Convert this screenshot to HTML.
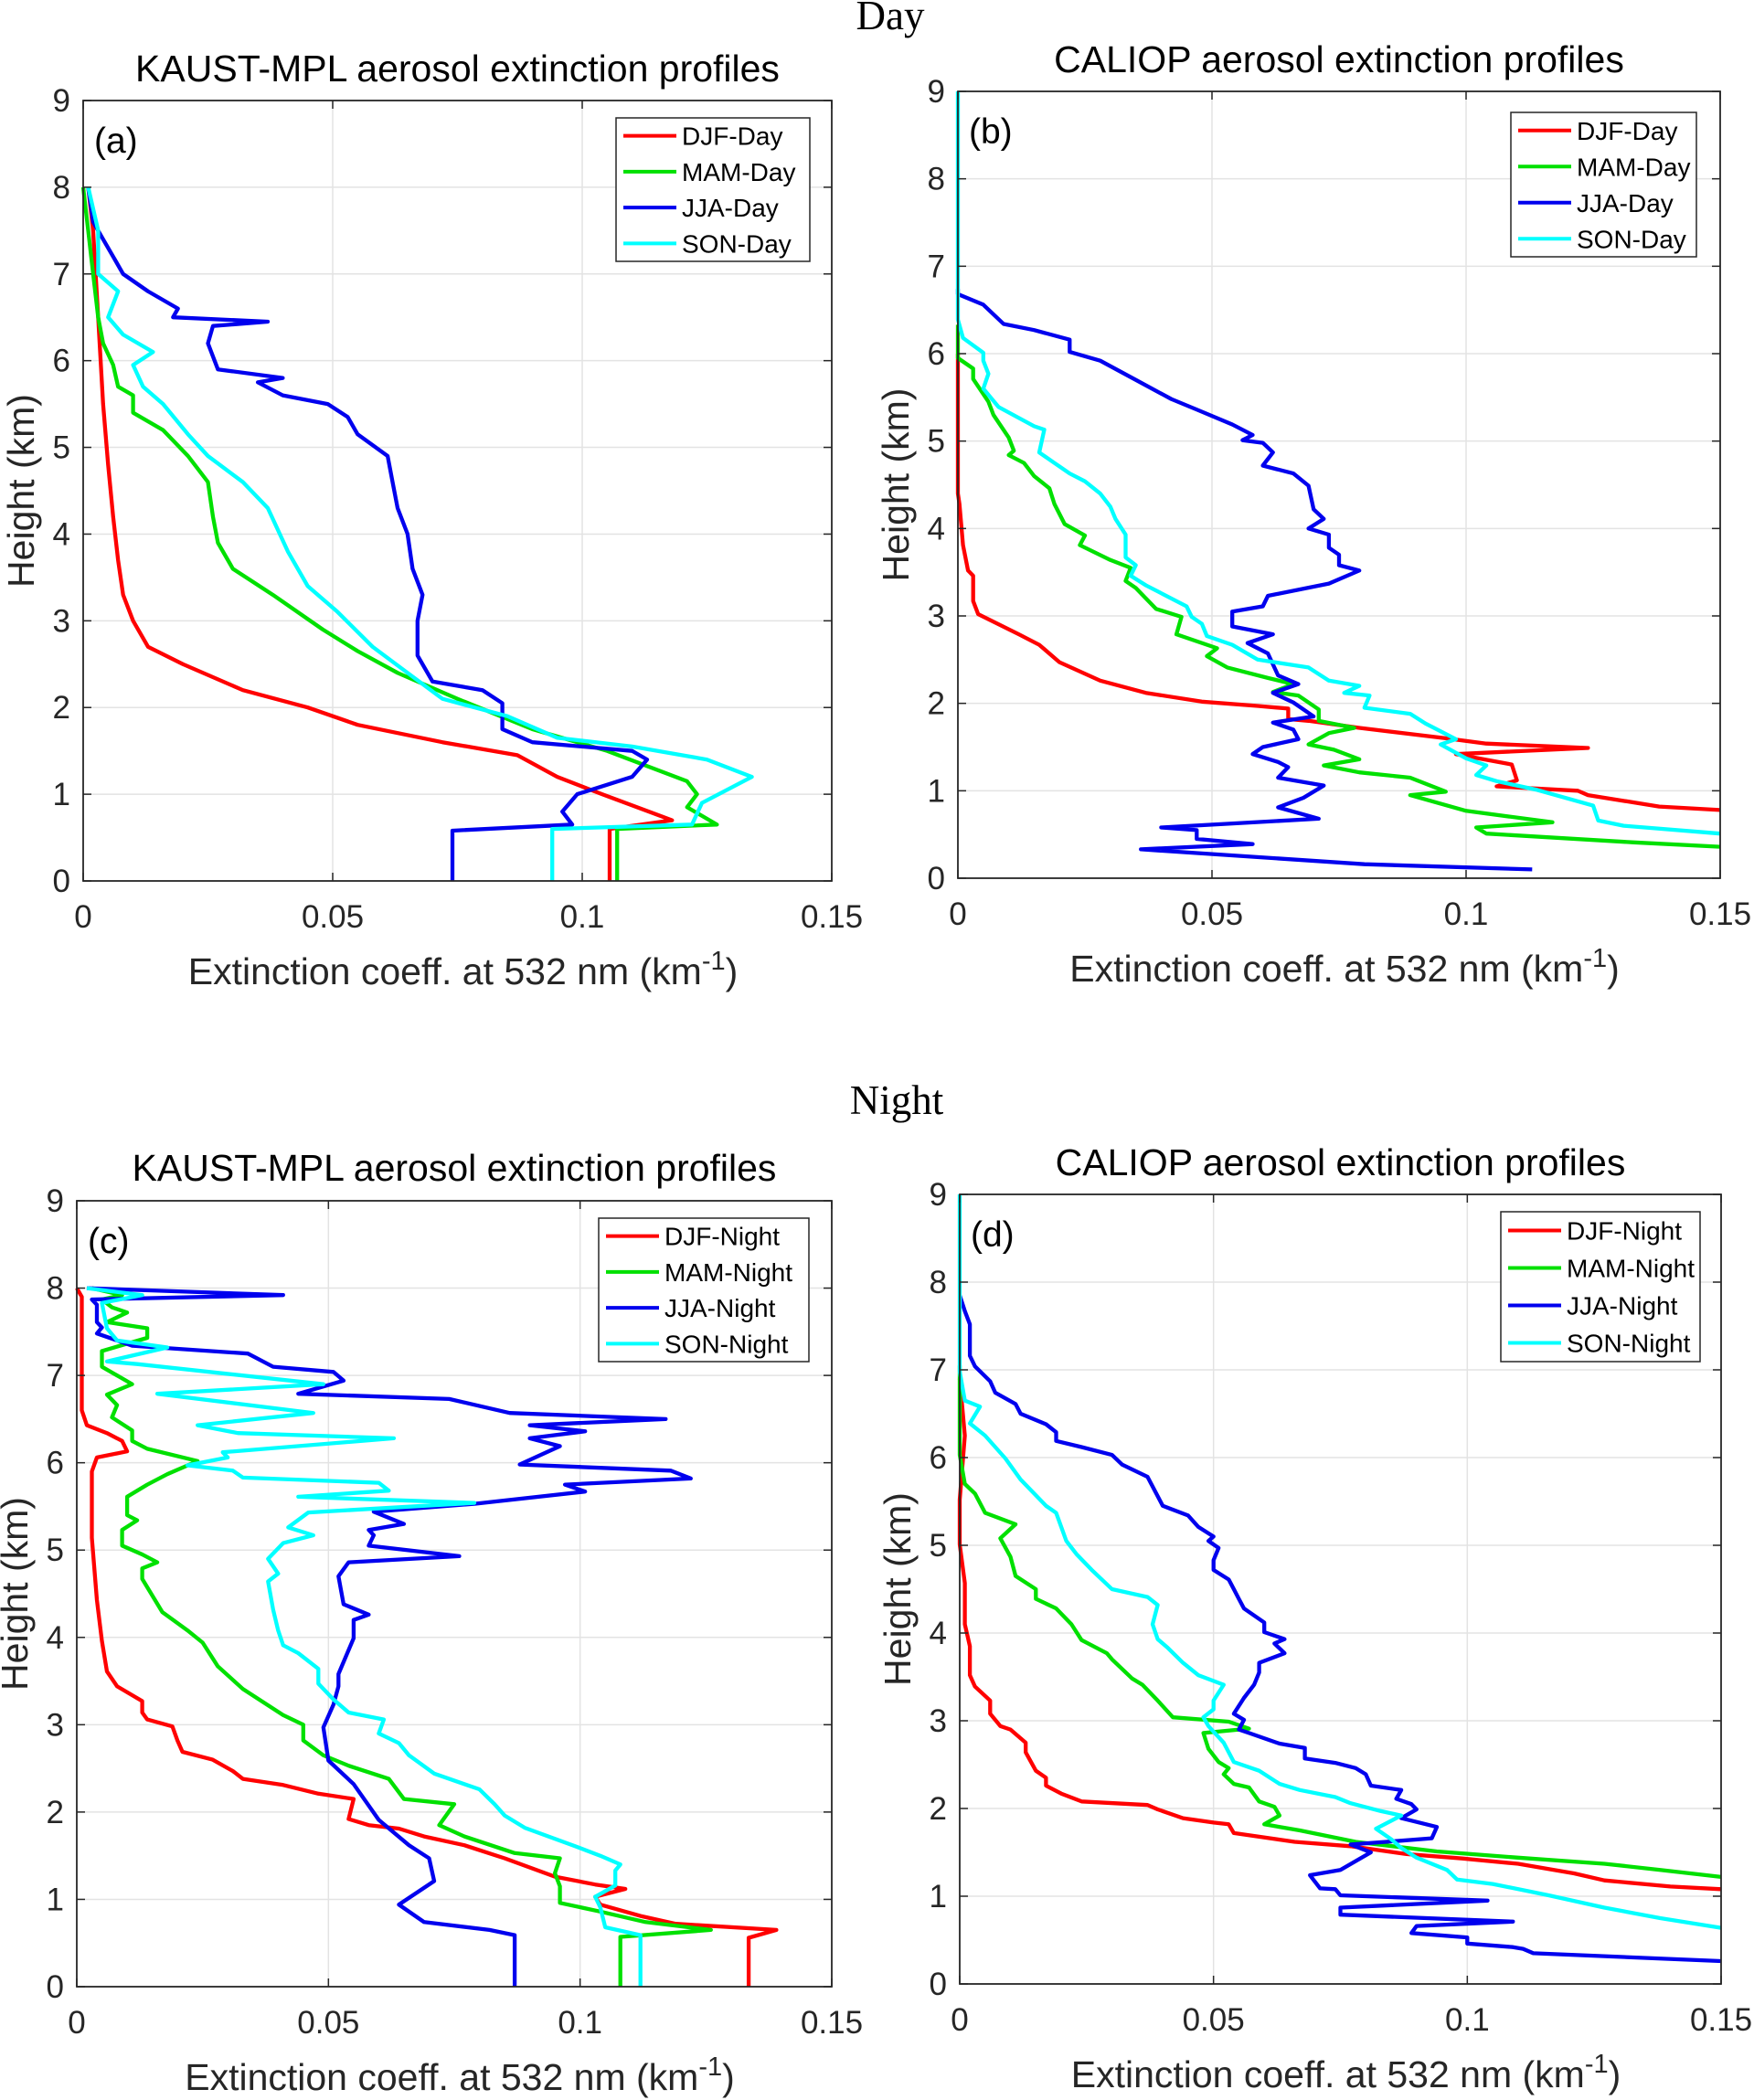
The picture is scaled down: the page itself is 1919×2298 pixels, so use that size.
<!DOCTYPE html>
<html><head><meta charset="utf-8">
<style>
html,body{margin:0;padding:0;background:#fff;}
svg{display:block;}
text{font-family:"Liberation Sans",Arial,sans-serif;}
</style></head>
<body>
<svg id="fig" width="1919" height="2298" viewBox="0 0 1919 2298" xmlns="http://www.w3.org/2000/svg">
<text x="974" y="32" text-anchor="middle" font-size="45" style="font-family:'Liberation Serif',serif" fill="#000">Day</text>
<text x="981" y="1219" text-anchor="middle" font-size="45" style="font-family:'Liberation Serif',serif" fill="#000">Night</text>
</svg>
<script>
// ---------- data: [extinction, height] pairs ----------
const xTicks=[0,0.05,0.1,0.15];
const xTickLabels=["0","0.05","0.1","0.15"];
const yTicks=[0,1,2,3,4,5,6,7,8,9];
const seasons=["DJF","MAM","JJA","SON"];

const aDJF=[[0.1055,0],[0.1055,0.6],[0.118,0.7],[0.104,1.0],[0.095,1.2],[0.087,1.45],[0.072,1.6],[0.055,1.8],[0.045,2.0],[0.032,2.2],[0.020,2.5],[0.013,2.7],[0.010,3.0],[0.008,3.3],[0.007,3.7],[0.006,4.2],[0.005,4.8],[0.004,5.5],[0.003,6.5],[0.002,7.5],[0.001,8]];
const aMAM=[[0.107,0],[0.107,0.6],[0.127,0.65],[0.121,0.85],[0.123,1.0],[0.121,1.15],[0.105,1.5],[0.09,1.75],[0.075,2.1],[0.063,2.4],[0.055,2.65],[0.048,2.9],[0.038,3.3],[0.030,3.6],[0.027,3.9],[0.026,4.2],[0.025,4.6],[0.021,4.9],[0.016,5.2],[0.010,5.4],[0.010,5.6],[0.007,5.7],[0.006,5.95],[0.004,6.2],[0.003,6.5],[0.002,7],[0.001,7.5],[0,8]];
const aJJA=[[0.074,0],[0.074,0.58],[0.098,0.65],[0.096,0.8],[0.099,1.0],[0.110,1.2],[0.113,1.4],[0.110,1.5],[0.090,1.6],[0.084,1.75],[0.084,2.05],[0.080,2.2],[0.070,2.3],[0.067,2.6],[0.067,3.0],[0.068,3.3],[0.066,3.6],[0.065,4.0],[0.063,4.3],[0.062,4.6],[0.061,4.9],[0.055,5.15],[0.053,5.35],[0.049,5.5],[0.040,5.6],[0.035,5.75],[0.040,5.8],[0.027,5.9],[0.025,6.2],[0.026,6.4],[0.037,6.45],[0.018,6.5],[0.019,6.6],[0.013,6.8],[0.008,7.0],[0.006,7.2],[0.004,7.4],[0.002,7.6],[0.001,8]];
const aSON=[[0.094,0],[0.094,0.6],[0.122,0.65],[0.124,0.9],[0.134,1.2],[0.125,1.4],[0.110,1.55],[0.095,1.65],[0.085,1.9],[0.072,2.1],[0.065,2.4],[0.058,2.7],[0.051,3.1],[0.045,3.4],[0.041,3.8],[0.037,4.3],[0.032,4.6],[0.025,4.9],[0.021,5.15],[0.016,5.5],[0.012,5.7],[0.010,5.95],[0.014,6.1],[0.008,6.3],[0.005,6.5],[0.007,6.8],[0.003,7.0],[0.003,7.5],[0.001,8]];

const bDJF=[[0.15,0.78],[0.138,0.82],[0.124,0.95],[0.122,1.0],[0.106,1.05],[0.110,1.12],[0.109,1.30],[0.098,1.42],[0.124,1.49],[0.104,1.54],[0.096,1.60],[0.079,1.72],[0.069,1.80],[0.065,1.82],[0.065,1.94],[0.059,1.97],[0.048,2.02],[0.037,2.12],[0.028,2.26],[0.020,2.47],[0.016,2.67],[0.012,2.79],[0.004,3.02],[0.003,3.17],[0.003,3.46],[0.002,3.52],[0.001,3.81],[0.0003,4.28],[0,4.4],[0,6.0]];
const bMAM=[[0.15,0.36],[0.133,0.41],[0.104,0.51],[0.102,0.58],[0.117,0.64],[0.100,0.77],[0.089,0.95],[0.096,0.99],[0.089,1.15],[0.079,1.21],[0.072,1.29],[0.079,1.36],[0.074,1.47],[0.069,1.53],[0.073,1.66],[0.078,1.72],[0.071,1.80],[0.071,1.93],[0.067,2.09],[0.062,2.13],[0.066,2.22],[0.061,2.29],[0.053,2.41],[0.049,2.54],[0.051,2.63],[0.043,2.79],[0.044,2.99],[0.039,3.08],[0.035,3.32],[0.033,3.40],[0.034,3.55],[0.030,3.64],[0.024,3.81],[0.025,3.92],[0.021,4.05],[0.019,4.28],[0.018,4.46],[0.015,4.60],[0.013,4.75],[0.010,4.84],[0.011,4.89],[0.010,5.04],[0.007,5.30],[0.006,5.45],[0.003,5.71],[0.003,5.83],[0,5.95],[0,6.33]];
const bJJA=[[0.113,0.10],[0.080,0.16],[0.036,0.33],[0.058,0.39],[0.047,0.45],[0.047,0.55],[0.040,0.58],[0.071,0.68],[0.063,0.81],[0.068,0.92],[0.072,1.06],[0.063,1.15],[0.065,1.27],[0.063,1.33],[0.058,1.42],[0.060,1.50],[0.067,1.59],[0.066,1.70],[0.062,1.78],[0.070,1.85],[0.066,2.01],[0.062,2.12],[0.067,2.22],[0.063,2.32],[0.061,2.57],[0.057,2.69],[0.062,2.79],[0.054,2.88],[0.054,3.05],[0.060,3.11],[0.061,3.23],[0.073,3.37],[0.079,3.52],[0.075,3.58],[0.075,3.70],[0.073,3.78],[0.073,3.93],[0.069,4.00],[0.072,4.11],[0.070,4.22],[0.069,4.49],[0.066,4.63],[0.060,4.72],[0.062,4.87],[0.060,4.98],[0.056,5.01],[0.058,5.07],[0.054,5.19],[0.047,5.36],[0.042,5.48],[0.035,5.70],[0.028,5.92],[0.022,6.02],[0.022,6.16],[0.015,6.27],[0.009,6.34],[0.005,6.56],[0,6.68],[0,6.74]];
const bSON=[[0.15,0.51],[0.131,0.60],[0.126,0.66],[0.125,0.83],[0.114,1.01],[0.106,1.11],[0.102,1.18],[0.104,1.29],[0.100,1.37],[0.095,1.53],[0.098,1.59],[0.092,1.77],[0.089,1.88],[0.080,1.95],[0.081,2.09],[0.076,2.12],[0.079,2.20],[0.073,2.26],[0.069,2.41],[0.059,2.50],[0.054,2.67],[0.049,2.77],[0.048,2.91],[0.046,2.99],[0.045,3.11],[0.040,3.26],[0.037,3.35],[0.034,3.46],[0.035,3.58],[0.033,3.67],[0.033,3.93],[0.031,4.11],[0.030,4.25],[0.028,4.40],[0.025,4.54],[0.022,4.63],[0.019,4.75],[0.016,4.87],[0.017,5.13],[0.015,5.17],[0.008,5.39],[0.005,5.60],[0.006,5.77],[0.005,5.92],[0.005,6.01],[0.001,6.18],[0,6.39],[0,9.0]];

const cDJF=[[0.1335,0],[0.1335,0.56],[0.139,0.65],[0.119,0.72],[0.112,0.81],[0.104,0.94],[0.103,1.03],[0.109,1.12],[0.103,1.17],[0.095,1.26],[0.085,1.47],[0.077,1.62],[0.069,1.72],[0.064,1.81],[0.058,1.85],[0.054,1.92],[0.055,2.15],[0.048,2.21],[0.041,2.31],[0.033,2.38],[0.031,2.47],[0.027,2.60],[0.021,2.69],[0.020,2.82],[0.019,2.98],[0.014,3.06],[0.013,3.14],[0.013,3.27],[0.008,3.44],[0.006,3.61],[0.005,3.96],[0.004,4.43],[0.003,5.14],[0.003,5.61],[0.003,5.90],[0.004,6.06],[0.010,6.13],[0.009,6.25],[0.006,6.34],[0.002,6.43],[0.001,6.60],[0.001,7.07],[0.001,7.60],[0.001,7.90],[0,8.0]];
const cMAM=[[0.108,0],[0.108,0.57],[0.126,0.65],[0.113,0.74],[0.104,0.86],[0.096,0.96],[0.096,1.15],[0.095,1.30],[0.096,1.47],[0.087,1.53],[0.077,1.72],[0.072,1.85],[0.075,2.09],[0.065,2.15],[0.062,2.38],[0.054,2.53],[0.049,2.65],[0.045,2.82],[0.045,3.00],[0.041,3.11],[0.033,3.41],[0.028,3.67],[0.025,3.94],[0.022,4.08],[0.017,4.29],[0.013,4.67],[0.013,4.79],[0.016,4.86],[0.013,4.95],[0.009,5.05],[0.009,5.23],[0.012,5.34],[0.010,5.40],[0.010,5.61],[0.014,5.75],[0.018,5.87],[0.024,6.02],[0.014,6.16],[0.011,6.25],[0.011,6.37],[0.007,6.52],[0.008,6.66],[0.006,6.78],[0.011,6.90],[0.005,7.10],[0.005,7.28],[0.014,7.43],[0.014,7.54],[0.006,7.61],[0.010,7.72],[0.007,7.78],[0.005,7.87],[0.009,7.92],[0.003,8.0]];
const cJJA=[[0.087,0],[0.087,0.59],[0.082,0.65],[0.069,0.74],[0.064,0.94],[0.071,1.21],[0.070,1.47],[0.066,1.62],[0.060,1.91],[0.055,2.32],[0.050,2.59],[0.049,2.97],[0.051,3.23],[0.052,3.44],[0.052,3.58],[0.055,3.99],[0.055,4.20],[0.058,4.26],[0.053,4.38],[0.052,4.70],[0.054,4.86],[0.076,4.93],[0.058,5.05],[0.059,5.17],[0.058,5.23],[0.065,5.30],[0.059,5.44],[0.079,5.53],[0.101,5.67],[0.097,5.75],[0.122,5.82],[0.118,5.91],[0.088,5.98],[0.096,6.19],[0.090,6.28],[0.101,6.36],[0.090,6.43],[0.117,6.50],[0.086,6.57],[0.074,6.73],[0.044,6.79],[0.053,6.94],[0.051,7.04],[0.039,7.10],[0.034,7.25],[0.011,7.34],[0.004,7.48],[0.005,7.55],[0.004,7.61],[0.004,7.81],[0.003,7.87],[0.041,7.92],[0.002,8.0]];
const cSON=[[0.112,0],[0.112,0.59],[0.105,0.68],[0.104,0.91],[0.103,1.03],[0.107,1.16],[0.107,1.33],[0.108,1.40],[0.104,1.50],[0.099,1.61],[0.089,1.82],[0.085,1.96],[0.083,2.09],[0.080,2.26],[0.077,2.32],[0.071,2.44],[0.066,2.65],[0.064,2.79],[0.060,2.90],[0.061,3.06],[0.054,3.14],[0.051,3.29],[0.048,3.47],[0.048,3.64],[0.044,3.82],[0.041,3.91],[0.040,4.08],[0.039,4.32],[0.038,4.64],[0.040,4.73],[0.038,4.90],[0.041,5.08],[0.047,5.17],[0.042,5.26],[0.046,5.43],[0.079,5.54],[0.044,5.61],[0.062,5.68],[0.060,5.77],[0.033,5.83],[0.031,5.91],[0.022,5.97],[0.030,6.06],[0.029,6.12],[0.063,6.28],[0.032,6.34],[0.024,6.43],[0.047,6.57],[0.016,6.79],[0.049,6.90],[0.012,7.13],[0.006,7.16],[0.018,7.32],[0.008,7.40],[0.006,7.54],[0.005,7.83],[0.013,7.92],[0.002,8.0]];

const dDJF=[[0.15,1.08],[0.140,1.11],[0.127,1.18],[0.121,1.26],[0.110,1.37],[0.099,1.43],[0.088,1.48],[0.077,1.57],[0.066,1.62],[0.054,1.72],[0.053,1.82],[0.050,1.84],[0.044,1.89],[0.039,1.99],[0.037,2.04],[0.024,2.08],[0.020,2.17],[0.017,2.26],[0.017,2.35],[0.015,2.43],[0.013,2.64],[0.013,2.75],[0.010,2.90],[0.008,2.94],[0.006,3.08],[0.006,3.23],[0.003,3.39],[0.002,3.52],[0.002,3.85],[0.001,4.10],[0.001,4.57],[0,5.01],[0,5.52],[0.001,6.25],[0,6.90]];
const dMAM=[[0.15,1.22],[0.138,1.30],[0.127,1.37],[0.110,1.44],[0.094,1.51],[0.078,1.62],[0.067,1.75],[0.060,1.82],[0.063,1.92],[0.062,2.02],[0.059,2.08],[0.057,2.24],[0.054,2.28],[0.052,2.39],[0.053,2.46],[0.051,2.53],[0.049,2.68],[0.048,2.86],[0.057,2.91],[0.053,2.99],[0.042,3.04],[0.039,3.23],[0.036,3.41],[0.034,3.48],[0.030,3.70],[0.029,3.77],[0.024,3.92],[0.022,4.10],[0.019,4.28],[0.015,4.39],[0.015,4.50],[0.011,4.65],[0.010,4.87],[0.008,5.08],[0.011,5.24],[0.005,5.37],[0.003,5.59],[0.001,5.70],[0,6.03],[0,6.69],[0,7.05]];
const dJJA=[[0.15,0.26],[0.113,0.35],[0.111,0.40],[0.109,0.42],[0.100,0.46],[0.100,0.53],[0.089,0.58],[0.090,0.66],[0.109,0.71],[0.075,0.79],[0.075,0.87],[0.104,0.95],[0.075,1.01],[0.074,1.08],[0.071,1.09],[0.069,1.24],[0.075,1.30],[0.081,1.50],[0.077,1.59],[0.084,1.62],[0.093,1.66],[0.094,1.79],[0.087,1.89],[0.090,1.99],[0.089,2.05],[0.086,2.11],[0.087,2.21],[0.081,2.26],[0.080,2.39],[0.078,2.46],[0.074,2.52],[0.068,2.57],[0.068,2.69],[0.063,2.74],[0.057,2.86],[0.055,2.90],[0.056,3.01],[0.054,3.08],[0.056,3.26],[0.058,3.41],[0.059,3.55],[0.059,3.66],[0.064,3.77],[0.062,3.88],[0.064,3.93],[0.060,4.01],[0.060,4.12],[0.056,4.28],[0.055,4.39],[0.054,4.50],[0.053,4.61],[0.050,4.72],[0.050,4.83],[0.051,4.97],[0.049,5.05],[0.050,5.10],[0.047,5.21],[0.045,5.34],[0.040,5.45],[0.039,5.56],[0.037,5.78],[0.032,5.92],[0.030,6.03],[0.024,6.12],[0.019,6.19],[0.019,6.29],[0.017,6.38],[0.012,6.50],[0.011,6.61],[0.007,6.74],[0.006,6.87],[0.003,7.04],[0.002,7.16],[0.002,7.52],[0.001,7.67],[0,7.85]];
const dSON=[[0.15,0.64],[0.138,0.75],[0.127,0.87],[0.116,1.01],[0.105,1.14],[0.098,1.19],[0.096,1.30],[0.090,1.44],[0.087,1.55],[0.085,1.65],[0.082,1.77],[0.087,1.92],[0.083,1.97],[0.077,2.06],[0.074,2.13],[0.067,2.21],[0.063,2.28],[0.059,2.43],[0.054,2.53],[0.052,2.75],[0.049,2.94],[0.048,3.04],[0.050,3.13],[0.050,3.23],[0.052,3.41],[0.047,3.52],[0.044,3.66],[0.041,3.83],[0.039,3.93],[0.038,4.10],[0.039,4.32],[0.037,4.41],[0.030,4.50],[0.026,4.72],[0.023,4.90],[0.021,5.05],[0.019,5.37],[0.017,5.45],[0.012,5.75],[0.009,5.99],[0.005,6.25],[0.002,6.39],[0.004,6.58],[0.001,6.65],[0,6.98],[0,9.0]];

// ---------- layout ----------
const colors=["#ff0000","#00e000","#0000ee","#00ffff"];
const panels=[
 {id:"a",L:91,R:910,T:110,B:964,title:"KAUST-MPL aerosol extinction profiles",ty:89,suffix:"Day",series:[aDJF,aMAM,aJJA,aSON],leg:[674,129,212,157]},
 {id:"b",L:1048,R:1882,T:100,B:961,title:"CALIOP aerosol extinction profiles",ty:79,suffix:"Day",series:[bDJF,bMAM,bJJA,bSON],leg:[1653,123,203,158]},
 {id:"c",L:84,R:910,T:1314,B:2174,title:"KAUST-MPL aerosol extinction profiles",ty:1292,suffix:"Night",series:[cDJF,cMAM,cJJA,cSON],leg:[655,1333,230,157]},
 {id:"d",L:1050,R:1883,T:1307,B:2171,title:"CALIOP aerosol extinction profiles",ty:1286,suffix:"Night",series:[dDJF,dMAM,dJJA,dSON],leg:[1642,1326,218,164]}
];
const NS="http://www.w3.org/2000/svg";
const svg=document.getElementById("fig");
function mk(tag,attrs,parent){const e=document.createElementNS(NS,tag);for(const k in attrs)e.setAttribute(k,attrs[k]);(parent||svg).appendChild(e);return e;}

panels.forEach(p=>{
 const g=mk("g",{});
 
 
 const xs=v=>p.L+(v-0)/(0.15)*(p.R-p.L);
 const ys=v=>p.B-(v/9)*(p.B-p.T);
 xTicks.forEach(t=>{if(t>0&&t<0.15){const l=mk("line",{x1:xs(t),x2:xs(t),y1:p.T,y2:p.B,stroke:"#e3e3e3","stroke-width":1.5},g);
  
  }});
 yTicks.forEach(t=>{if(t>0&&t<9){const l=mk("line",{x1:p.L,x2:p.R,y1:ys(t),y2:ys(t),stroke:"#e3e3e3","stroke-width":1.5},g);
  
  }});
 p.series.forEach((s,i)=>{
  const d=s.map((pt,j)=>(j?"L":"M")+xs(pt[0]).toFixed(1)+","+ys(pt[1]).toFixed(1)).join(" ");
  const path=mk("path",{d:d,fill:"none",stroke:colors[i],"stroke-width":4.3,"stroke-linejoin":"round"},g);
  
  
 });
 const box=mk("rect",{x:p.L,y:p.T,width:p.R-p.L,height:p.B-p.T,fill:"none",stroke:"#262626","stroke-width":1.8},g);
 
 
 xTicks.forEach((t,i)=>{
  mk("line",{x1:xs(t),x2:xs(t),y1:p.B,y2:p.B-9,stroke:"#262626","stroke-width":1.5},g);
  mk("line",{x1:xs(t),x2:xs(t),y1:p.T,y2:p.T+9,stroke:"#262626","stroke-width":1.5},g);
  const tx=mk("text",{x:xs(t),y:p.B+51,"text-anchor":"middle","font-size":35,fill:"#262626"},g);
  tx.textContent=xTickLabels[i];
  
  
 });
 yTicks.forEach(t=>{
  mk("line",{x1:p.L,x2:p.L+9,y1:ys(t),y2:ys(t),stroke:"#262626","stroke-width":1.5},g);
  mk("line",{x1:p.R,x2:p.R-9,y1:ys(t),y2:ys(t),stroke:"#262626","stroke-width":1.5},g);
  const tx=mk("text",{x:p.L-14,y:ys(t)+12,"text-anchor":"end","font-size":35,fill:"#262626"},g);
  tx.textContent=String(t);
  
  
 });
 const tt=mk("text",{x:(p.L+p.R)/2,y:p.ty,"text-anchor":"middle","font-size":41,fill:"#000"},g);
 tt.textContent=p.title;
 
 
 const pl=mk("text",{x:p.L+12,y:p.T+57,"font-size":39,fill:"#000"},g);
 pl.textContent="("+p.id+")";
 
 
 const xl=mk("text",{x:(p.L+p.R)/2+6,y:p.B+113,"text-anchor":"middle","font-size":41,fill:"#262626"},g);
 xl.innerHTML='Extinction coeff. at 532 nm (km<tspan dy="-16" font-size="29">-1</tspan><tspan dy="16">)</tspan>';
 
 
 const cy=(p.T+p.B)/2;
 const yl=mk("text",{x:p.L-54,y:cy,"text-anchor":"middle","font-size":41,fill:"#262626",transform:"rotate(-90 "+(p.L-54)+" "+cy+")"},g);
 yl.textContent="Height (km)";
 
 
 const [lx,ly,lw,lh]=p.leg;
 const lg=mk("g",{},g);
 
 
 mk("rect",{x:lx,y:ly,width:lw,height:lh,fill:"#fff",stroke:"#262626","stroke-width":1.5},lg);
 const step=lh/4;
 seasons.forEach((s,i)=>{
  const yy=ly+step*(i+0.5);
  mk("line",{x1:lx+8,x2:lx+66,y1:yy,y2:yy,stroke:colors[i],"stroke-width":4},lg);
  const t=mk("text",{x:lx+72,y:yy+10,"font-size":28,fill:"#000"},lg);
  t.textContent=s+"-"+p.suffix;
  
  
 });
});
</script>
</body></html>
